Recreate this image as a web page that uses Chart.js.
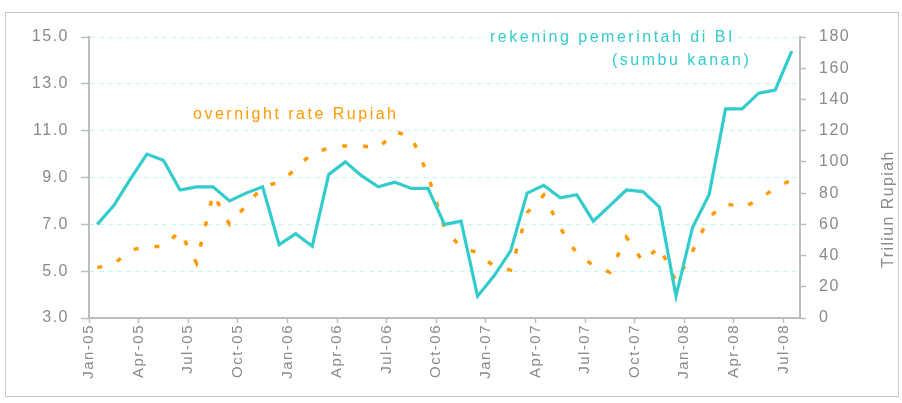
<!DOCTYPE html>
<html>
<head>
<meta charset="utf-8">
<script src="https://cdn.jsdelivr.net/npm/chart.js@4.4.1/dist/chart.umd.min.js"></script>
<style>
  html, body { margin: 0; padding: 0; background: #fff; }
  #wrap { position: relative; width: 902px; height: 403px; }
  #frame { position: absolute; left: 5px; top: 12px; width: 892px; height: 383px; border: 1px solid #c8c8c8; }
  canvas { position: absolute; left: 0; top: 0; }
</style>
</head>
<body>
<div id="wrap">
  <div id="frame"></div>
  <canvas id="chart" width="902" height="403"></canvas>
</div>
<script>
// x axis: month index from Jan-05, labels every quarter
const tickMonths = [0, 3, 6, 9, 12, 15, 18, 21, 24, 27, 30, 33, 36, 39, 42];
const tickLabels = ['Jan-05','Apr-05','Jul-05','Oct-05','Jan-06','Apr-06','Jul-06','Oct-06',
                    'Jan-07','Apr-07','Jul-07','Oct-07','Jan-08','Apr-08','Jul-08'];

// rekening pemerintah di BI (Triliun Rupiah, sumbu kanan), Jan-05 .. Jul-08
const rekening = [60, 72, 89, 105, 101, 82, 84, 84, 75, 80, 84, 47,
                  54, 46, 92, 100, 91, 84, 87, 83, 83, 60, 62, 14,
                  27, 43, 80, 85, 77, 79, 62, 72, 82, 81, 71, 14,
                  58, 79, 134, 134, 144, 146, 171];

// overnight rate Rupiah (%), Jan-05 .. Jul-08
const overnight = [5.15, 5.3, 5.9, 6.05, 6.05, 6.7, 5.35, 8.3, 7.0, 7.8, 8.6, 8.8,
                   9.35, 10.05, 10.25, 10.35, 10.35, 10.25, 10.95, 10.75, 9.1, 6.85, 6.0, 5.8,
                   5.2, 5.05, 7.5, 8.25, 6.85, 5.75, 5.25, 4.95, 6.45, 5.4, 6.05, 4.55,
                   5.85, 7.3, 7.9, 7.7, 8.05, 8.55, 8.9];

const TEAL = '#33CCCC';
const ORANGE = '#FF9900';
const AXIS = '#BDBDBD';
const LABEL = '#8a8a8a';

// data sit in the middle of each month
const toPoints = arr => arr.map((v, i) => ({x: i + 0.5, y: v}));

Chart.defaults.font.family = '"Liberation Sans", Arial, sans-serif';

const notes = {
  id: 'notes',
  beforeDraw(chart) {
    chart.ctx.letterSpacing = '1.5px';
  },
  afterDraw(chart) {
    const ctx = chart.ctx;
    ctx.save();
    ctx.font = '16px "Liberation Sans", Arial, sans-serif';
    ctx.letterSpacing = '2.5px';
    ctx.textBaseline = 'middle';
    ctx.textAlign = 'left';

    // teal label sits on the top grid line with a white box
    const t1 = 'rekening pemerintah di BI';
    const w1 = ctx.measureText(t1).width;
    ctx.fillStyle = '#fff';
    ctx.fillRect(487, 29, w1 + 4, 17);
    ctx.fillStyle = TEAL;
    ctx.fillText(t1, 490, 38);
    ctx.fillText('(sumbu kanan)', 612, 61);

    ctx.fillStyle = ORANGE;
    ctx.fillText('overnight rate Rupiah', 193, 115);

    // right axis title, reads bottom to top
    ctx.letterSpacing = '1.4px';
    ctx.fillStyle = LABEL;
    ctx.translate(889, 209);
    ctx.rotate(-Math.PI / 2);
    ctx.textAlign = 'center';
    ctx.fillText('Triliun Rupiah', 0, 0);
    ctx.restore();
  }
};

new Chart(document.getElementById('chart'), {
  type: 'line',
  data: {
    datasets: [
      {
        label: 'rekening pemerintah di BI',
        data: toPoints(rekening),
        yAxisID: 'y1',
        borderColor: TEAL,
        borderWidth: 3.2,
        pointRadius: 0,
        tension: 0
      },
      {
        label: 'overnight rate Rupiah',
        data: toPoints(overnight),
        yAxisID: 'y',
        borderColor: ORANGE,
        borderWidth: 3.5,
        borderDash: [5, 16],
        pointRadius: 0,
        tension: 0
      }
    ]
  },
  options: {
    responsive: false,
    animation: false,
    devicePixelRatio: 1,
    layout: {padding: {top: 37, left: 0, right: 0, bottom: 0}},
    plugins: {
      legend: {display: false},
      tooltip: {enabled: false}
    },
    scales: {
      x: {
        type: 'linear',
        min: 0,
        max: 43,
        afterBuildTicks: s => { s.ticks = tickMonths.map(v => ({value: v})); },
        afterFit: s => { s.height = 85; },
        grid: {drawOnChartArea: false, drawTicks: true, tickLength: 5, tickColor: AXIS, tickWidth: 1.5},
        border: {color: AXIS, width: 2},
        ticks: {
          color: LABEL,
          font: {size: 15},
          minRotation: 90,
          maxRotation: 90,
          padding: 1,
          autoSkip: false,
          callback: v => tickLabels[tickMonths.indexOf(v)]
        }
      },
      y: {
        position: 'left',
        min: 3,
        max: 15,
        afterFit: s => { s.width = 89; },
        grid: {color: '#C4F5F5', lineWidth: 1, tickLength: 8, tickColor: AXIS, tickWidth: 1.5, tickBorderDash: [20, 0]},
        border: {color: AXIS, width: 2, dash: [5, 4]},
        ticks: {
          stepSize: 2,
          color: LABEL,
          font: {size: 16},
          padding: 12,
          callback: v => v.toFixed(1)
        }
      },
      y1: {
        position: 'right',
        min: 0,
        max: 180,
        afterFit: s => { s.width = 102; },
        grid: {drawOnChartArea: false, tickLength: 6, tickColor: AXIS, tickWidth: 1.5},
        border: {color: AXIS, width: 2},
        ticks: {
          stepSize: 20,
          color: LABEL,
          font: {size: 16},
          padding: 13
        }
      }
    }
  },
  plugins: [notes]
});
</script>
</body>
</html>
